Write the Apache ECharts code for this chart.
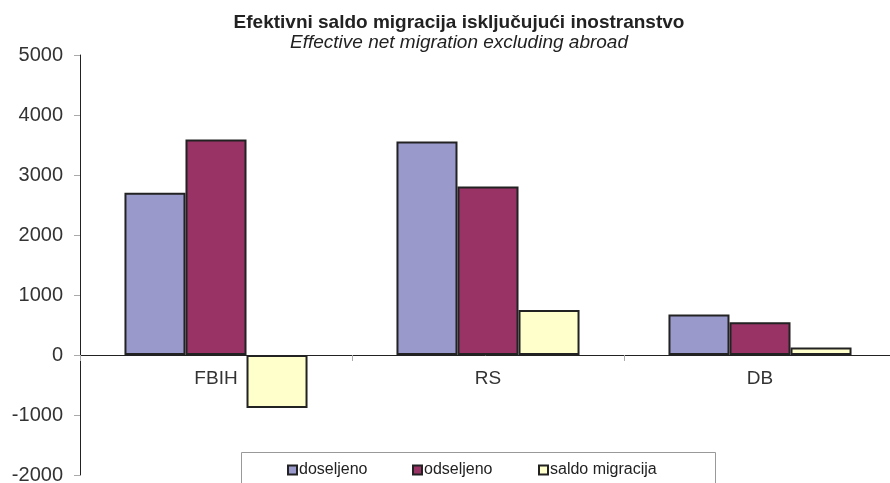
<!DOCTYPE html>
<html>
<head>
<meta charset="utf-8">
<script src="https://cdn.jsdelivr.net/npm/echarts@6/dist/echarts.min.js"></script>
<style>html,body{margin:0;padding:0;background:#fff}#c{width:890px;height:483px}</style>
</head>
<body>
<div id="c"></div>
<script>
const categories = ['FBIH', 'RS', 'DB'];
const doseljeno = [2705, 3560, 675];
const odseljeno = [3590, 2810, 545];
const saldo = [-885, 750, 125];
const seriesNames = ['doseljeno', 'odseljeno', 'saldo migracija'];
const yTicks = { min: -2000, max: 5000, interval: 1000 };

const chart = echarts.init(document.getElementById('c'));
const FONT = '"Liberation Sans", Arial, sans-serif';
const border = { borderColor: '#222', borderWidth: 2 };
const legendLefts = [287, 412, 538];
chart.setOption({
  animation: false,
  backgroundColor: '#fff',
  title: {
    text: 'Efektivni saldo migracija isključujući inostranstvo',
    subtext: 'Effective net migration excluding abroad',
    left: 454, top: 8, textAlign: 'center', itemGap: 1,
    textStyle: { fontFamily: FONT, fontSize: 19, fontWeight: 'bold', color: '#222' },
    subtextStyle: { fontFamily: FONT, fontSize: 19, fontStyle: 'italic', color: '#222' }
  },
  graphic: [{
    type: 'rect', shape: { x: 241.5, y: 452.5, width: 474, height: 40 },
    style: { fill: 'none', stroke: '#999', lineWidth: 1 }, silent: true, z: 100
  }],
  legend: seriesNames.map((n, i) => ({
    top: 462, left: legendLefts[i], itemWidth: 9, itemHeight: 9, icon: 'rect', padding: 0,
    textStyle: { fontFamily: FONT, fontSize: 16, color: '#222', padding: [0, 0, 0, -3] },
    data: [n]
  })),
  grid: { left: 80, right: -6, top: 55, bottom: 8, containLabel: false, outerBoundsMode: 'none' },
  xAxis: {
    type: 'category', data: categories, position: 'bottom', offset: -120,
    axisLine: { onZero: false, lineStyle: { color: '#222', width: 1 } },
    axisTick: { show: true, length: 6, lineStyle: { color: '#aaa' } },
    axisLabel: { margin: 14, fontFamily: FONT, fontSize: 19, color: '#333' }
  },
  yAxis: {
    type: 'value', min: yTicks.min, max: yTicks.max, interval: yTicks.interval,
    splitLine: { show: false },
    axisLine: { show: true, lineStyle: { color: '#222', width: 1 } },
    axisTick: { show: true, length: 6, lineStyle: { color: '#aaa' } },
    axisLabel: { margin: 17, fontFamily: FONT, fontSize: 20, color: '#333', formatter: v => String(v) }
  },
  series: [
    { name: seriesNames[0], type: 'bar', data: doseljeno, barGap: '0%', barCategoryGap: '32.7%',
      itemStyle: Object.assign({ color: '#9999CC' }, border) },
    { name: seriesNames[1], type: 'bar', data: odseljeno, barGap: '0%', barCategoryGap: '32.7%',
      itemStyle: Object.assign({ color: '#993366' }, border) },
    { name: seriesNames[2], type: 'bar', data: saldo, barGap: '0%', barCategoryGap: '32.7%',
      itemStyle: Object.assign({ color: '#FFFFCC' }, border) }
  ]
});
</script>
</body>
</html>
